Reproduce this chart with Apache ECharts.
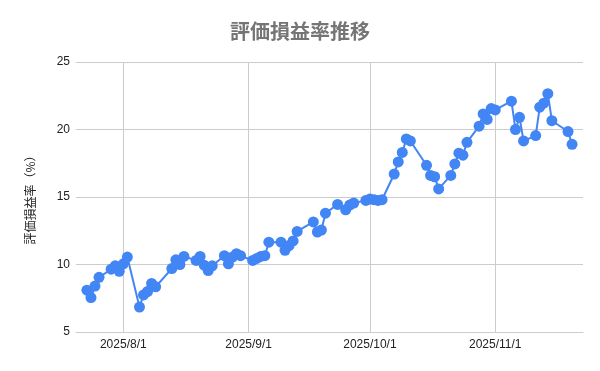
<!DOCTYPE html>
<html><head><meta charset="utf-8">
<script src="https://cdn.jsdelivr.net/npm/echarts@6/dist/echarts.min.js"></script>
<style>html,body{margin:0;padding:0;background:#fff}#c{width:600px;height:371px}</style>
</head><body><div id="c"></div>
<script>
const dates = [
  '2025-07-23','2025-07-24','2025-07-25','2025-07-26',
  '2025-07-29','2025-07-30','2025-07-31','2025-08-01','2025-08-02',
  '2025-08-05','2025-08-06','2025-08-07','2025-08-08','2025-08-09',
  '2025-08-13','2025-08-14','2025-08-15','2025-08-16',
  '2025-08-19','2025-08-20','2025-08-21','2025-08-22','2025-08-23',
  '2025-08-26','2025-08-27','2025-08-28','2025-08-29','2025-08-30',
  '2025-09-02','2025-09-03','2025-09-04','2025-09-05','2025-09-06',
  '2025-09-09','2025-09-10','2025-09-11','2025-09-12','2025-09-13',
  '2025-09-17','2025-09-18','2025-09-19','2025-09-20',
  '2025-09-23','2025-09-25','2025-09-26','2025-09-27',
  '2025-09-30','2025-10-01','2025-10-02','2025-10-03','2025-10-04',
  '2025-10-07','2025-10-08','2025-10-09','2025-10-10','2025-10-11',
  '2025-10-15','2025-10-16','2025-10-17','2025-10-18',
  '2025-10-21','2025-10-22','2025-10-23','2025-10-24','2025-10-25',
  '2025-10-28','2025-10-29','2025-10-30','2025-10-31','2025-11-01',
  '2025-11-05','2025-11-06','2025-11-07','2025-11-08',
  '2025-11-11','2025-11-12','2025-11-13','2025-11-14','2025-11-15',
  '2025-11-19','2025-11-20'
];
const values = [
  8.1, 7.55, 8.4, 9.05,
  9.65, 9.9, 9.5, 10.05, 10.55,
  6.85, 7.75, 8.0, 8.6, 8.35,
  9.7, 10.35, 10.0, 10.6,
  10.3, 10.6, 9.95, 9.55, 9.9,
  10.65, 10.05, 10.55, 10.8, 10.65,
  10.3, 10.45, 10.6, 10.65, 11.65,
  11.65, 11.05, 11.4, 11.75, 12.45,
  13.15, 12.4, 12.55, 13.8,
  14.45, 14.05, 14.4, 14.55,
  14.75, 14.85, 14.8, 14.75, 14.8,
  16.7, 17.6, 18.3, 19.3, 19.15,
  17.35, 16.6, 16.5, 15.6,
  16.6, 17.45, 18.25, 18.1, 19.05,
  20.25, 21.15, 20.75, 21.55, 21.45,
  22.1, 20.0, 20.9, 19.15,
  19.55, 21.65, 21.95, 22.65, 20.65,
  19.85, 18.9
];
const xTickDates = ['2025-08-01','2025-09-01','2025-10-01','2025-11-01'];
const yTicks = [5, 10, 15, 20, 25];
const titleText = '評価損益率推移';
const yAxisName = '評価損益率（%）';

function toTs(s) { const p = s.split('-').map(Number); return new Date(p[0], p[1]-1, p[2]).getTime(); }
const DAY = 86400000;
const ts = dates.map(toTs);
const xTicks = xTickDates.map(toTs);
const seriesData = ts.map((t, i) => [t, values[i]]);

const chart = echarts.init(document.getElementById('c'), null, {renderer: 'canvas'});
chart.setOption({
  animation: false,
  backgroundColor: '#ffffff',
  title: {
    text: titleText, left: 'center', top: 16,
    textStyle: {fontFamily: '"Noto Sans CJK JP", sans-serif', fontSize: 20, fontWeight: 'bold', color: '#757575'}
  },
  grid: {left: 76, right: 17, top: 62, bottom: 39, containLabel: false},
  xAxis: {
    type: 'value',
    min: ts[0] - 2.7 * DAY,
    max: ts[ts.length - 1] + 2.7 * DAY,
    axisLine: {show: true, onZero: false, lineStyle: {color: '#cccccc'}},
    axisTick: {show: false, customValues: xTicks},
    axisLabel: {
      customValues: xTicks, margin: 7, hideOverlap: false,
      fontFamily: '"Liberation Sans", Arial, sans-serif', fontSize: 12, color: '#222222',
      formatter: function (v) { const d = new Date(v); return d.getFullYear() + '/' + (d.getMonth()+1) + '/' + d.getDate(); }
    },
    splitLine: {show: true, lineStyle: {color: '#cccccc', width: 1}}
  },
  yAxis: {
    type: 'value', min: yTicks[0], max: yTicks[yTicks.length - 1], interval: 5,
    name: yAxisName, nameLocation: 'middle', nameGap: 40, nameRotate: 90,
    nameTextStyle: {fontFamily: '"Noto Sans CJK JP", sans-serif', fontSize: 12, color: '#222222'},
    axisLine: {show: false},
    axisTick: {show: false},
    axisLabel: {margin: 6, fontFamily: '"Liberation Sans", Arial, sans-serif', fontSize: 12, color: '#222222'},
    splitLine: {show: true, lineStyle: {color: '#cccccc', width: 1}}
  },
  series: [{
    type: 'line',
    data: seriesData,
    symbol: 'circle', symbolSize: 11, showSymbol: true,
    lineStyle: {color: '#4285F4', width: 2},
    itemStyle: {color: '#4285F4', borderWidth: 0},
    z: 3
  }]
});
</script>
</body></html>
